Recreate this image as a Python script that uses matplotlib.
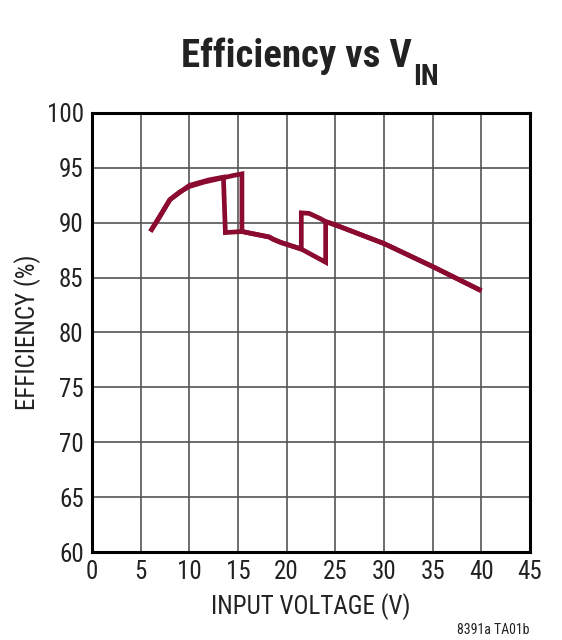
import matplotlib
matplotlib.use('Agg')
import matplotlib.pyplot as plt

# efficiency sweep, VIN rising then VIN falling (hysteresis between modes)
rise_vin = [6.0, 7.0, 8.0, 9.0, 10.0, 11.5, 13.0, 14.5, 15.4, 15.4, 16.5, 18.2, 18.6, 19.4, 21.5, 24.0,
            24.0, 25.0, 30.0, 35.0, 40.0]
rise_eff = [89.2, 90.6, 92.1, 92.8, 93.3, 93.7, 94.0, 94.3, 94.45, 89.2, 89.0, 88.7, 88.5, 88.2, 87.6, 86.4,
            90.1, 89.8, 88.1, 86.0, 83.8]
fall_vin = [40.0, 35.0, 30.0, 25.0, 24.0, 23.4, 22.3, 21.5, 21.5, 19.4, 18.6, 18.2, 15.4, 13.7,
            13.5, 12.0, 10.0, 8.0, 6.0]
fall_eff = [83.8, 86.0, 88.1, 89.8, 90.1, 90.4, 90.85, 90.9, 87.6, 88.2, 88.5, 88.7, 89.2, 89.1,
            94.15, 93.9, 93.4, 92.1, 89.2]

x_ticks = [0, 5, 10, 15, 20, 25, 30, 35, 40, 45]
y_ticks = [60, 65, 70, 75, 80, 85, 90, 95, 100]

fams = ['Roboto Condensed', 'Archivo Narrow', 'PT Sans Narrow', 'Liberation Sans', 'DejaVu Sans']
plt.rcParams['font.family'] = fams

fig = plt.figure(figsize=(5.62, 6.4), dpi=100)
ax = fig.add_axes([0.1637, 0.1375, 0.7795, 0.686])

line_col = '#8b0a30'
ax.plot(rise_vin, rise_eff, color=line_col, lw=3.4, solid_joinstyle='miter', solid_capstyle='butt')
ax.plot(fall_vin, fall_eff, color=line_col, lw=3.4, solid_joinstyle='miter', solid_capstyle='butt')

ax.set_xlim(0, 45)
ax.set_ylim(60, 100)
ax.set_xticks(x_ticks)
ax.set_yticks(y_ticks)
ax.tick_params(length=0, labelsize=18, pad=6, colors='#222222')
ax.grid(True, color='#555555', lw=1.2)
ax.set_axisbelow(True)
for sp in ax.spines.values():
    sp.set_linewidth(2.2)
    sp.set_color('black')

ax.set_xlabel('INPUT VOLTAGE (V)', fontsize=18, labelpad=6, color='#222222')
ax.set_ylabel('EFFICIENCY (%)', fontsize=18, labelpad=4, color='#222222')

t = fig.text(0.528, 0.895, 'Efficiency vs V', fontsize=28, fontweight='bold', ha='center', va='baseline',
             color='#222222')
ax.annotate('IN', xy=(1, 0), xycoords=t, xytext=(1, -7), textcoords='offset points',
            fontsize=21, fontweight='bold', ha='left', va='baseline', color='#222222')

fig.text(0.943, 0.004, '8391a TA01b', fontsize=10, ha='right', va='bottom', color='#222222')

fig.savefig('out.png', dpi=100)
